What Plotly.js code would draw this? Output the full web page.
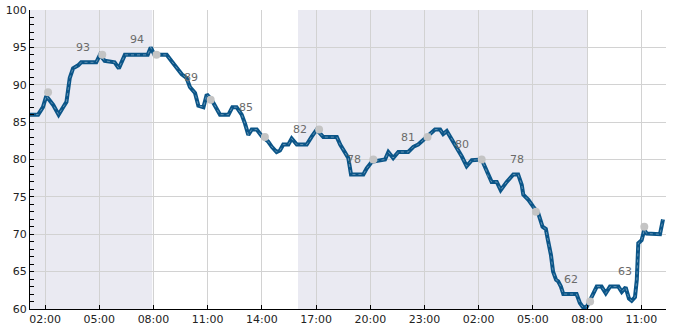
<!DOCTYPE html>
<html>
<head>
<meta charset="utf-8">
<script src="https://cdn.plot.ly/plotly-3.0.1.min.js"></script>
<style>html,body{margin:0;padding:0;background:#fff}#chart{width:685px;height:330px}</style>
</head>
<body>
<div id="chart"></div>
<script>
// ---- data ----
const lineTimes = [
 '2024-01-01 01:10','2024-01-01 01:37','2024-01-01 01:53','2024-01-01 02:04','2024-01-01 02:27','2024-01-01 02:45',
 '2024-01-01 03:00','2024-01-01 03:11','2024-01-01 03:22','2024-01-01 03:33','2024-01-01 03:50','2024-01-01 04:00',
 '2024-01-01 04:50','2024-01-01 05:02','2024-01-01 05:18','2024-01-01 05:51','2024-01-01 06:05','2024-01-01 06:25',
 '2024-01-01 07:41','2024-01-01 07:51','2024-01-01 08:03','2024-01-01 08:44','2024-01-01 09:01','2024-01-01 09:17',
 '2024-01-01 09:34','2024-01-01 09:50','2024-01-01 10:01','2024-01-01 10:18','2024-01-01 10:29','2024-01-01 10:46',
 '2024-01-01 10:57','2024-01-01 11:13','2024-01-01 11:30','2024-01-01 11:41','2024-01-01 12:09','2024-01-01 12:22',
 '2024-01-01 12:36','2024-01-01 12:53','2024-01-01 13:04','2024-01-01 13:15','2024-01-01 13:26','2024-01-01 13:43',
 '2024-01-01 14:00','2024-01-01 14:21','2024-01-01 14:33','2024-01-01 14:49','2024-01-01 15:00','2024-01-01 15:11',
 '2024-01-01 15:28','2024-01-01 15:39','2024-01-01 15:56','2024-01-01 16:29','2024-01-01 16:46','2024-01-01 17:02',
 '2024-01-01 17:24','2024-01-01 18:09','2024-01-01 18:20','2024-01-01 18:30','2024-01-01 18:47','2024-01-01 18:56',
 '2024-01-01 19:37','2024-01-01 19:48','2024-01-01 20:05','2024-01-01 20:49','2024-01-01 21:00','2024-01-01 21:16',
 '2024-01-01 21:33','2024-01-01 22:06','2024-01-01 22:23','2024-01-01 22:39','2024-01-01 22:56','2024-01-01 23:13',
 '2024-01-01 23:35','2024-01-01 23:52','2024-01-02 00:02','2024-01-02 00:14','2024-01-02 00:36','2024-01-02 00:47',
 '2024-01-02 01:04','2024-01-02 01:20','2024-01-02 01:37','2024-01-02 02:10','2024-01-02 02:21','2024-01-02 02:32',
 '2024-01-02 02:43','2024-01-02 03:00','2024-01-02 03:13','2024-01-02 03:33','2024-01-02 03:55','2024-01-02 04:11',
 '2024-01-02 04:23','2024-01-02 04:28','2024-01-02 04:45','2024-01-02 05:01','2024-01-02 05:18','2024-01-02 05:32',
 '2024-01-02 05:43','2024-01-02 05:50','2024-01-02 06:00','2024-01-02 06:07','2024-01-02 06:17','2024-01-02 06:24',
 '2024-01-02 06:33','2024-01-02 06:41','2024-01-02 07:25','2024-01-02 07:36','2024-01-02 07:47','2024-01-02 07:59',
 '2024-01-02 08:10','2024-01-02 08:21','2024-01-02 08:32','2024-01-02 08:48','2024-01-02 09:02','2024-01-02 09:16',
 '2024-01-02 09:44','2024-01-02 09:55','2024-01-02 10:08','2024-01-02 10:19','2024-01-02 10:28','2024-01-02 10:39',
 '2024-01-02 10:45','2024-01-02 10:50','2024-01-02 11:01','2024-01-02 11:10','2024-01-02 11:18','2024-01-02 12:02',
 '2024-01-02 12:12'
];
const lineValues = [
 86,86,87,88.5,87.3,86,
 87,87.7,90.9,92.2,92.6,93,
 93,94,93.2,93,92.2,94,
 94,95,94,94,93.1,92.2,
 91.4,90.9,89.7,88.9,87.2,87,
 88.7,88,86.8,86,86,87,
 87,86,84.8,83.3,84,84,
 83.1,82.4,81.7,81,81.2,82,
 82,82.8,82,82,83.1,84,
 83,83,82,81.3,80.2,78,
 78,78.8,79.7,80,81,80.2,
 81,81,81.7,82,82.6,83.1,
 84,84,83.4,83.8,82.4,81.5,
 80.4,79.1,79.9,80,79,77.7,
 77,77,75.9,77,78,78,
 76.6,75.3,74.6,73.7,72.8,71,
 70.7,69.2,67.2,65,63.9,63.7,
 63,62,62,60.8,60.2,60.3,
 61.2,62.3,63,63,62.1,63,
 63,62.3,62.9,61.4,61.1,61.6,
 63.9,68.8,69.2,70.6,70.1,70,
 72
];
const dotTimes = ['2024-01-01 02:10','2024-01-01 05:10','2024-01-01 08:10','2024-01-01 11:10','2024-01-01 14:10','2024-01-01 17:10',
                  '2024-01-01 20:10','2024-01-01 23:10','2024-01-02 02:10','2024-01-02 05:10','2024-01-02 08:10','2024-01-02 11:10'];
const dotValues = [89,94,94,88,83,84,80,83,80,73,61,71];
const labelTimes = ['2024-01-01 04:06','2024-01-01 07:06','2024-01-01 10:06','2024-01-01 13:06','2024-01-01 16:06','2024-01-01 19:06',
                    '2024-01-01 22:06','2024-01-02 01:06','2024-01-02 04:06','2024-01-02 07:06','2024-01-02 10:06'];
const labelValues = [93,94,89,85,82,78,81,80,78,62,63];
const shadeBands = [['2024-01-01 01:10','2024-01-01 07:56'],['2024-01-01 16:00','2024-01-02 08:00']];
const xRange = ['2024-01-01 01:10','2024-01-02 12:22'];
const yRange = [60,100];

const lineColor = '#0b5588';
const traces = [
  {x: lineTimes, y: lineValues, type:'scatter', mode:'lines', line:{color:lineColor, width:4}, hoverinfo:'skip'},
  {x: lineTimes, y: lineValues, type:'scatter', mode:'lines', line:{color:'rgba(255,255,255,0.35)', width:1, dash:'dot'}, hoverinfo:'skip'},
  {x: dotTimes, y: dotValues, type:'scatter', mode:'markers', marker:{color:'#c4c4c4', size:8}, hoverinfo:'skip'}
];

const annotations = labelTimes.map((t,i)=>({
  x:t, y:labelValues[i], xref:'x', yref:'y', text:String(labelValues[i]), showarrow:false,
  yshift:15, xanchor:'center', yanchor:'middle',
  font:{family:'DejaVu Sans', size:11, color:'#6a6a6a'}
}));

const shapes = shadeBands.map(b=>({
  type:'rect', xref:'x', yref:'paper', x0:b[0], x1:b[1], y0:0, y1:1,
  fillcolor:'#eaeaf2', line:{width:0}, layer:'below'
}));

const layout = {
  width:685, height:330,
  margin:{l:30, r:19, t:10, b:21},
  paper_bgcolor:'#ffffff', plot_bgcolor:'#ffffff',
  showlegend:false,
  font:{family:'DejaVu Sans', size:11, color:'#222'},
  xaxis:{
    type:'date', range:xRange,
    tick0:'2024-01-01 02:00', dtick:3*3600*1000, tickformat:'%H:%M',
    showgrid:true, gridcolor:'#d2d2d2', gridwidth:1,
    showline:true, linecolor:'#000', linewidth:1,
    ticks:'inside', ticklen:4, tickcolor:'#000',
    zeroline:false, tickfont:{size:11, color:'#222'}
  },
  yaxis:{
    range:yRange, tick0:60, dtick:5,
    showgrid:true, gridcolor:'#d2d2d2', gridwidth:1,
    showline:true, linecolor:'#000', linewidth:1,
    ticks:'inside', ticklen:4, tickcolor:'#000',
    minor:{dtick:1, ticks:'inside', ticklen:4, tickcolor:'#000', showgrid:false},
    zeroline:false, tickfont:{size:11, color:'#222'}
  },
  shapes: shapes,
  annotations: annotations
};

Plotly.newPlot('chart', traces, layout, {displayModeBar:false, staticPlot:true});
</script>
</body>
</html>
